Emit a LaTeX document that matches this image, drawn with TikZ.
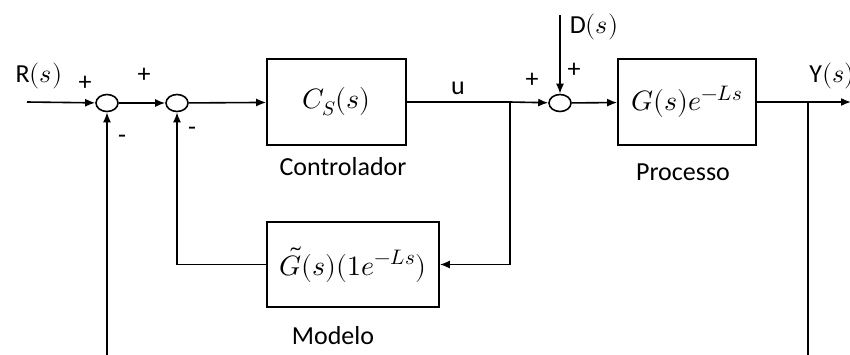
\documentclass[tikz,border=0pt]{standalone}
\usepackage{fontspec}
\usepackage{unicode-math}
\setmainfont{Carlito}
\setmathfont{Latin Modern Math}
\usetikzlibrary{arrows.meta,shapes.geometric}
\newcommand{\supsz}[1]{^{\hbox{\fontsize{21}{21}\selectfont$#1$}}}
\begin{document}
\begin{tikzpicture}[x=1pt,y=-1pt,
  line width=1.6pt,
  font=\fontsize{26}{30}\selectfont,
  arr/.style={-{Latex[length=10pt,width=8pt]}},
  blk/.style={draw,rectangle,inner sep=0pt,minimum width=#1,font=\fontsize{28}{32}\selectfont},
  sumnode/.style={draw,ellipse,inner sep=0pt,minimum width=22pt,minimum height=17pt},
  lbl/.style={inner sep=0pt,anchor=center}]
\useasboundingbox (0,0) rectangle (850,354);
\clip (0,0) rectangle (850,354);
% nodes
\node[sumnode] (s1) at (107,103) {};
\node[sumnode] (s2) at (177,103) {};
\node[sumnode] (s3) at (560,103) {};
\node[blk=139pt,minimum height=86pt] (C) at (336.5,102) {$C_S(s)$};
\node[blk=138pt,minimum height=86pt] (P) at (687,102) {$G(s)e\supsz{-Ls}$};
\node[blk=172pt,minimum height=85pt] (M) at (353,264.5) {$\tilde{G}(s)(1e\supsz{-Ls})$};
\coordinate (in) at (27,102);
\coordinate (bu) at (510,102);
\coordinate (by) at (808,102);
\coordinate (out) at (851,102);
\coordinate (dtop) at (560,15);
\coordinate (b1) at (107,360);
\coordinate (b2) at (808,360);
% connectors
\draw[arr] (in) -- (s1);
\draw[arr] (s1) -- (s2);
\draw[arr] (s2) -- (C);
\draw (C) -- (bu);
\draw[arr] (bu) -- (s3);
\draw[arr] (s3) -- (P);
\draw (P) -- (by);
\draw[arr] (by) -- (out);
\draw[arr] (dtop) -- (s3);
\draw[arr] (bu) |- (M.east);
\draw[arr] (M.west) -| (s2.south);
\draw[arr] (b1) -- (s1.south);
\draw (by) -- (b2);
% labels
\node[lbl] (tR) at (39,76) {R$(s)$};
\node[lbl] (tD) at (594,27) {D$(s)$};
\node[lbl] (tY) at (832,76) {Y$(s)$};
\node[lbl] (tu) at (458,88) {u};
\node[lbl] (tC) at (343,167) {Controlador};
\node[lbl] (tP) at (683,172) {Processo};
\node[lbl] (tM) at (333,336) {Modelo};
\node[lbl] (p1) at (85,83) {+};
\node[lbl] (m1) at (122,139) {-};
\node[lbl] (p2) at (144,75) {+};
\node[lbl] (m2) at (192,131) {-};
\node[lbl] (p3) at (532,80) {+};
\node[lbl] (p4) at (574,70) {+};
\end{tikzpicture}
\end{document}
